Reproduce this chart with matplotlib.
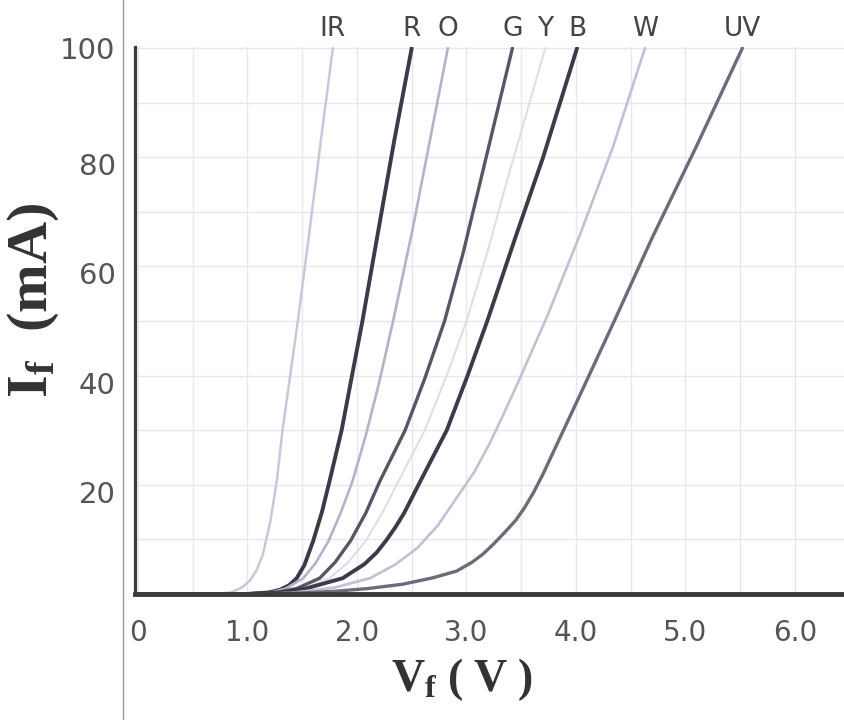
import matplotlib
matplotlib.use("Agg")
import matplotlib.pyplot as plt
from matplotlib.lines import Line2D
from matplotlib.transforms import ScaledTranslation
import numpy as np

plt.rcParams['mathtext.fontset'] = 'custom'
plt.rcParams['mathtext.rm'] = 'Liberation Serif'
plt.rcParams['mathtext.bf'] = 'Liberation Serif:bold'
plt.rcParams['mathtext.it'] = 'Liberation Serif:italic'

# ---- data ----
labels = ["IR", "R", "O", "G", "Y", "B", "W", "UV"]

v_ir = [0, 0.7, 0.85, 0.95, 1.02, 1.08, 1.14, 1.21, 1.27, 1.32, 1.39, 1.46, 1.57, 1.67, 1.78]
i_ir = [0, 0, 0.3, 1.2, 2.4, 4.2, 7.2, 13.4, 21, 30, 40, 50, 67, 83, 100]

v_r = [0, 1.0, 1.2, 1.3, 1.38, 1.45, 1.52, 1.60, 1.68, 1.75, 1.86, 1.95, 2.05, 2.19, 2.34, 2.50]
i_r = [0, 0, 0.3, 0.8, 1.6, 2.9, 5.3, 9.7, 15, 20.7, 30, 39.5, 50, 66, 83, 100]

v_o = [0, 1.0, 1.2, 1.35, 1.51, 1.62, 1.74, 1.85, 1.96, 2.08, 2.20, 2.33, 2.51, 2.67, 2.83]
i_o = [0, 0, 0.2, 1.0, 2.9, 5.6, 9.7, 14.8, 20.7, 29, 38.5, 50, 67, 83.5, 100]

v_g = [0, 1.0, 1.25, 1.45, 1.66, 1.80, 1.94, 2.08, 2.21, 2.44, 2.62, 2.80, 2.97, 3.12, 3.27, 3.42]
i_g = [0, 0, 0.2, 1.0, 2.9, 5.8, 9.7, 14.8, 20.7, 30, 39.5, 50, 62.5, 75, 87.5, 100]

v_y = [0, 1.0, 1.3, 1.5, 1.75, 1.92, 2.08, 2.23, 2.38, 2.62, 2.82, 3.0, 3.19, 3.36, 3.54, 3.72]
i_y = [0, 0, 0.2, 1.0, 2.9, 5.8, 9.7, 14.8, 20.7, 30, 40, 50, 62.5, 75, 87.5, 100]

v_b = [0, 1.0, 1.3, 1.55, 1.87, 2.07, 2.18, 2.27, 2.35, 2.43, 2.58, 2.82, 3.01, 3.19, 3.45, 3.70, 4.01]
i_b = [0, 0, 0.3, 1.1, 2.9, 5.5, 7.6, 9.9, 12.2, 14.8, 20.7, 30, 40, 50, 65.5, 80, 100]

v_w = [0, 1.0, 1.4, 1.8, 2.12, 2.35, 2.55, 2.74, 2.91, 3.07, 3.21, 3.34, 3.47, 3.74, 4.04, 4.34, 4.63]
i_w = [0, 0, 0.2, 1.2, 2.9, 5.4, 8.4, 12.6, 17.6, 22.3, 27.5, 33, 38.7, 51, 66, 82, 100]

v_uv = [0, 1.2, 1.5, 1.8, 2.1, 2.42, 2.7, 2.91, 3.05, 3.15, 3.25, 3.35, 3.45, 3.53,
        3.61, 3.70, 3.80, 4.01, 4.35, 4.69, 5.10, 5.52]
i_uv = [0, 0, 0.2, 0.5, 1.0, 1.8, 3.0, 4.2, 5.8, 7.3, 9.2, 11.3, 13.5, 15.8,
        18.5, 22, 26.3, 35.3, 50, 65, 82, 100]

x_ticks = [0, 1, 2, 3, 4, 5, 6]
x_ticklabels = ["0", "1.0", "2.0", "3.0", "4.0", "5.0", "6.0"]
y_ticks = [20, 40, 60, 80, 100]
y_ticklabels = ["20", "40", "60", "80", "100"]

series = [
    (v_ir, i_ir, "#c8c8da", 1.8),
    (v_r, i_r, "#3c3a48", 2.8),
    (v_o, i_o, "#b3b3c8", 1.9),
    (v_g, i_g, "#575566", 2.4),
    (v_y, i_y, "#dedee8", 1.5),
    (v_b, i_b, "#3d3b4a", 2.8),
    (v_w, i_w, "#c0c1d3", 1.9),
    (v_uv, i_uv, "#6d6b7a", 2.4),
]

fig = plt.figure(figsize=(8.45, 7.2), dpi=100)
ax = fig.add_axes([135/845, 1-594/720, 1-135/845, (594-47)/720])

for v, i, c, lw in series:
    ax.plot(v, i, color=c, lw=lw, solid_capstyle='round', solid_joinstyle='round', zorder=3)

ax.set_xlim(-0.027, 6.457)
ax.set_ylim(0, 100.2)

ax.set_xticks(x_ticks)
ax.set_xticklabels(x_ticklabels)
ax.set_yticks(y_ticks)
ax.set_yticklabels(y_ticklabels)
ax.set_xticks(np.arange(0.5, 6.5, 1.0), minor=True)
ax.set_yticks(np.arange(10, 100, 20), minor=True)
ax.grid(True, which='both', color='#e7e7ee', lw=1.0, zorder=0)
ax.tick_params(axis='both', which='both', length=0)
ax.tick_params(axis='x', pad=18, labelsize=20, labelcolor='#555555')
ax.tick_params(axis='y', pad=14, labelsize=21, labelcolor='#555555')

# scanned original prints the lower y labels slightly below their gridlines
for lab in ax.get_yticklabels()[:-1]:
    lab.set_transform(lab.get_transform() + ScaledTranslation(0, -7/100, fig.dpi_scale_trans))

for s in ['top', 'right']:
    ax.spines[s].set_visible(False)
ax.spines['left'].set_color('#3a3a3a')
ax.spines['left'].set_linewidth(2.3)
ax.spines['bottom'].set_color('#3a3a3a')
ax.spines['bottom'].set_linewidth(3.5)
ax.spines['left'].set_zorder(5)
ax.spines['bottom'].set_zorder(5)

for (v, i, c, lw), lab in zip(series, labels):
    ax.annotate(lab, xy=(v[-1], i[-1]), xytext=(0, 14), textcoords='offset points',
                ha='center', va='center', fontsize=19, color='#444444',
                annotation_clip=False)

fig.text(33/845, 1-300/720, r'$\mathbf{I_f}\ \ \mathbf{(mA)}$', rotation=90,
         ha='center', va='center', fontsize=42, color='#333333')
fig.text(462/845, 1-680/720, r'$\mathbf{V_f\ (\ V\ )}$',
         ha='center', va='center', fontsize=33, color='#333333')

fig.add_artist(Line2D([123/845, 123/845], [0, 1], color='#9a9a9a', lw=1.0,
                      transform=fig.transFigure))

fig.savefig("out.png", dpi=100, facecolor='white')
